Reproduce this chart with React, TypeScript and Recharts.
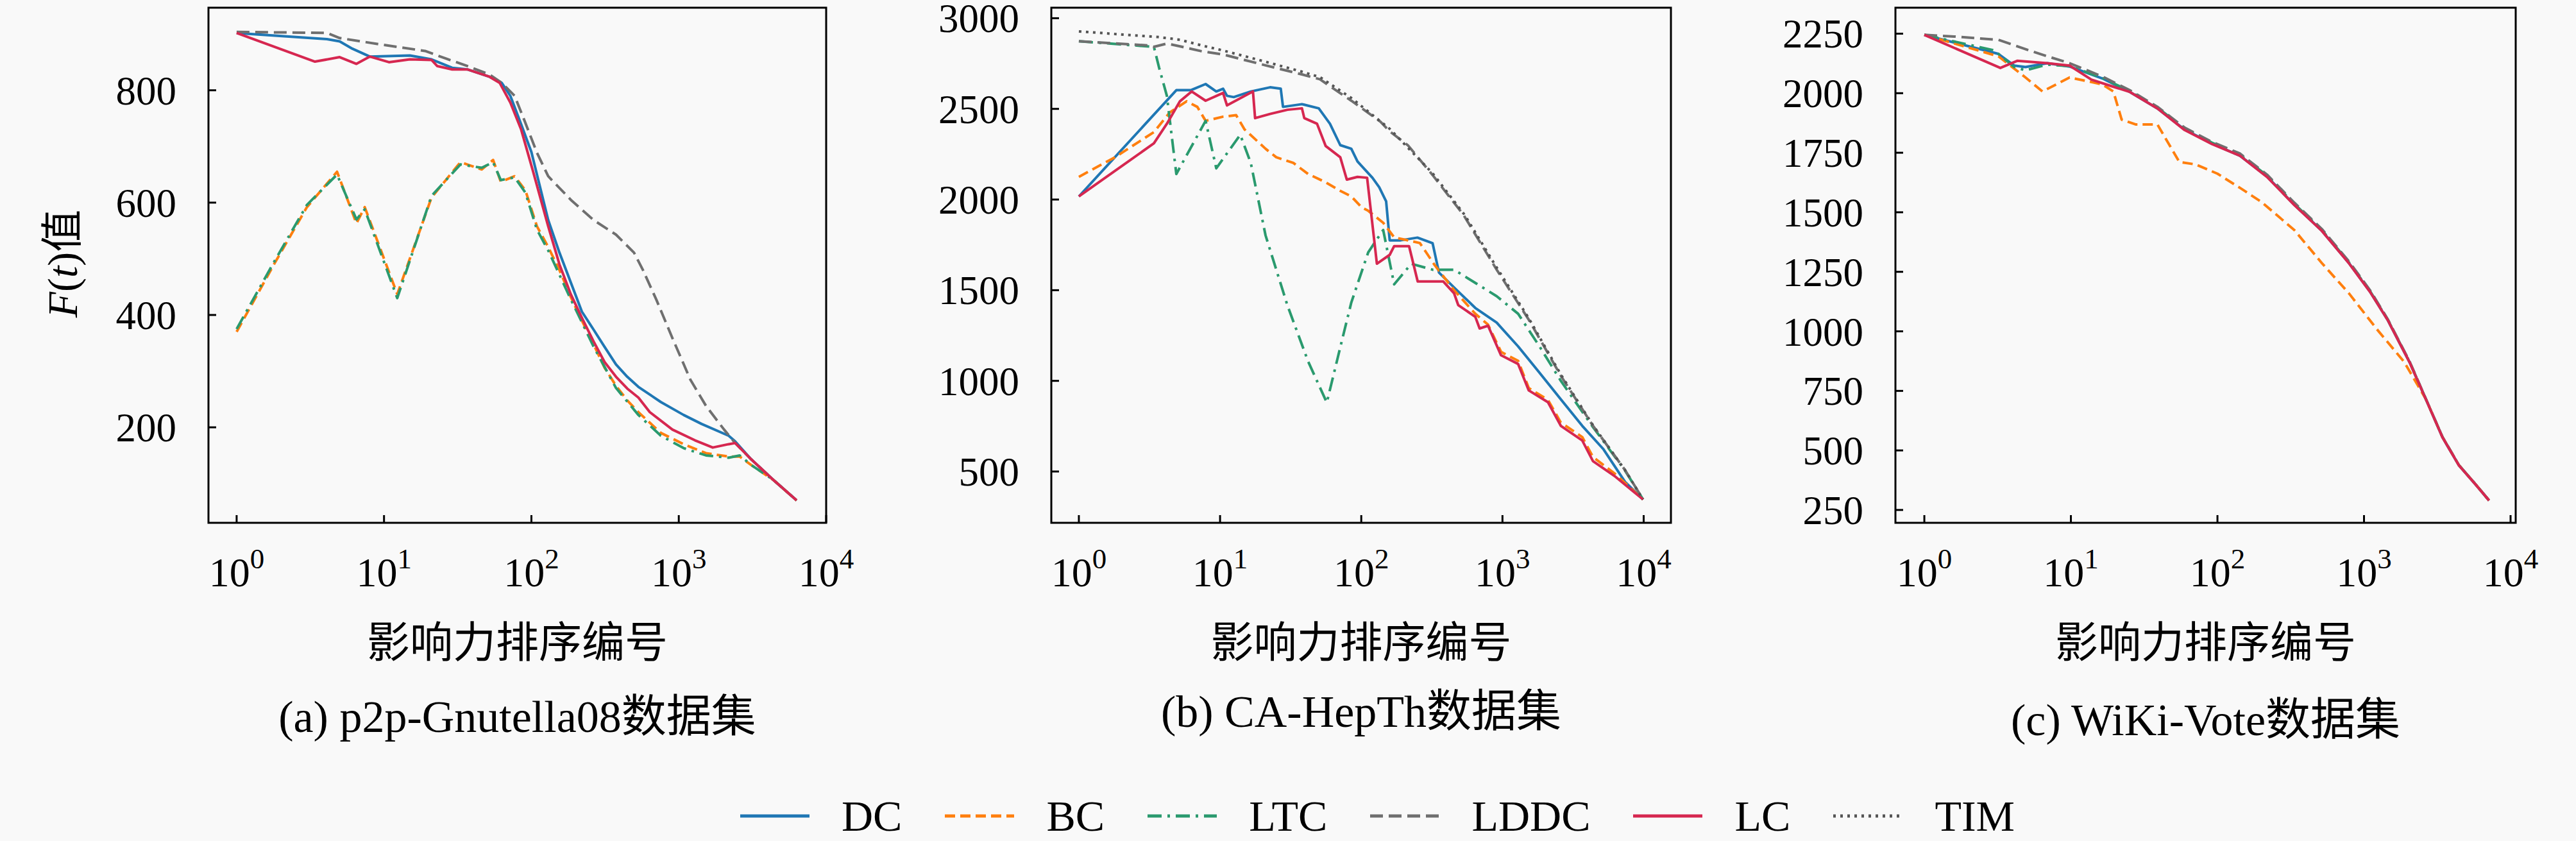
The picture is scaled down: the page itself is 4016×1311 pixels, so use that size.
import React from 'react';
import { LineChart, Line, XAxis, YAxis, ReferenceArea } from 'recharts';

type Pt = [number, number];

const SERIF = "'Liberation Serif', 'Noto Sans CJK SC', serif";

// (a) p2p-Gnutella08 : [rank, F(t)]
const A_DC: Pt[] = [[1, 902], [4.1, 891], [5, 887], [6.1, 874], [8, 860], [15, 862], [21, 855], [29, 840], [37, 837], [52, 824], [63, 813], [72, 790], [85, 740], [100, 690], [130, 569], [155, 511], [185, 458], [220, 406], [264, 374], [314, 343], [375, 312], [447, 290], [532, 272], [756, 245], [1079, 222], [1429, 206], [2180, 185], [2413, 175], [3100, 143], [4400, 106], [6300, 70]];
const A_BC: Pt[] = [[1, 370], [1.8, 491], [3, 592], [4.8, 655], [6.5, 563], [7.4, 592], [12.3, 437], [21, 609], [33, 672], [46, 659], [55, 676], [62, 637], [77, 647], [91, 622], [109, 558], [130, 521], [155, 480], [185, 432], [220, 390], [264, 348], [314, 306], [375, 274], [447, 248], [532, 227], [756, 190], [1079, 170], [1531, 154], [2180, 148], [2590, 148], [3100, 133], [4400, 106], [6300, 70]];
const A_LTC: Pt[] = [[1, 375], [1.8, 495], [3, 596], [4.8, 650], [6.5, 570], [7.4, 588], [12.3, 430], [21, 612], [33, 668], [46, 662], [55, 672], [62, 640], [77, 645], [91, 618], [109, 552], [130, 515], [185, 428], [264, 344], [375, 270], [532, 222], [756, 185], [1079, 163], [1531, 150], [2180, 146], [2590, 150], [3100, 133], [4400, 106], [6300, 70]];
const A_LDDC: Pt[] = [[1, 904], [4.1, 902], [5, 893], [7, 887], [9.8, 881], [19, 870], [26.6, 856], [37, 843], [52, 828], [63, 813], [77, 790], [91, 742], [109, 689], [130, 647], [185, 605], [264, 569], [375, 543], [497, 511], [571, 480], [705, 427], [905, 359], [1198, 285], [1531, 238], [2029, 196], [2413, 172], [3100, 143], [4400, 106], [6300, 70]];
const A_LC: Pt[] = [[1, 902], [3.4, 851], [5, 859], [6.5, 847], [8, 860], [10.8, 850], [15, 855], [21, 854], [23, 843], [29, 837], [37, 837], [52, 824], [61, 813], [72, 778], [85, 731], [102, 658], [130, 558], [155, 490], [185, 437], [220, 395], [264, 353], [314, 316], [375, 290], [447, 269], [532, 253], [636, 227], [905, 196], [1285, 177], [1700, 164], [2180, 170], [2413, 172], [3100, 143], [4400, 106], [6300, 70]];

// (b) CA-HepTh
const B_DC: Pt[] = [[1, 2017], [4.9, 2603], [6.2, 2603], [7.9, 2637], [9.4, 2596], [10.5, 2611], [11.2, 2572], [12.5, 2565], [16.5, 2596], [22.6, 2619], [26.9, 2611], [27.9, 2511], [38, 2526], [50, 2503], [60, 2418], [71, 2300], [85, 2280], [94, 2210], [120, 2120], [134, 2068], [150, 1990], [159, 1775], [190, 1775], [250, 1790], [320, 1759], [355, 1597], [454, 1515], [642, 1402], [910, 1321], [1291, 1190], [1829, 1045], [2590, 898], [3673, 752], [5200, 622], [7380, 443], [9900, 346]];
const B_BC: Pt[] = [[1, 2125], [1.8, 2233], [3.4, 2372], [4.4, 2480], [5.8, 2542], [6.9, 2511], [7.9, 2434], [10.5, 2457], [13, 2465], [14.9, 2387], [21, 2280], [25, 2233], [33, 2202], [42, 2141], [56, 2095], [71, 2048], [85, 2017], [101, 1956], [112, 1938], [143, 1872], [171, 1791], [200, 1780], [260, 1760], [330, 1640], [454, 1500], [642, 1370], [790, 1310], [977, 1160], [1291, 1110], [1536, 960], [2100, 895], [2590, 770], [3673, 690], [4375, 580], [6200, 490], [9900, 346]];
const B_LTC: Pt[] = [[1, 2873], [3.4, 2842], [3.7, 2727], [4.2, 2572], [4.9, 2141], [7.9, 2434], [9.4, 2172], [13.9, 2357], [16.5, 2202], [21, 1802], [30, 1416], [42, 1108], [57, 880], [71, 1185], [85, 1432], [112, 1709], [143, 1832], [171, 1532], [226, 1646], [320, 1613], [454, 1613], [910, 1467], [1291, 1370], [1829, 1190], [2590, 1000], [4375, 745], [7380, 505], [9900, 346]];
const B_LDDC: Pt[] = [[1, 2873], [3.1, 2850], [3.4, 2842], [4.2, 2860], [5.2, 2845], [7.4, 2818], [10.5, 2800], [21, 2740], [38, 2690], [51, 2663], [85, 2545], [137, 2429], [159, 2376], [214, 2299], [320, 2135], [530, 1915], [910, 1613], [1536, 1337], [2590, 1028], [4375, 752], [7380, 508], [9900, 346]];
const B_LC: Pt[] = [[1, 2017], [3.4, 2310], [4.2, 2418], [5.2, 2542], [6.3, 2596], [7.9, 2545], [10.5, 2588], [11.2, 2519], [17.1, 2596], [17.7, 2449], [22.6, 2472], [30, 2495], [38, 2503], [39.5, 2449], [48.6, 2418], [56, 2295], [71, 2233], [79, 2110], [94, 2125], [110, 2120], [129, 1646], [159, 1695], [171, 1743], [218, 1743], [251, 1548], [381, 1548], [454, 1483], [486, 1418], [642, 1353], [689, 1289], [790, 1304], [977, 1141], [1291, 1093], [1536, 947], [2100, 882], [2590, 752], [3673, 671], [4375, 557], [6200, 476], [9900, 346]];
const B_TIM: Pt[] = [[1, 2927], [3.7, 2896], [5.2, 2881], [7.4, 2850], [10.5, 2822], [21, 2760], [38, 2705], [51, 2675], [85, 2560], [159, 2390], [320, 2145], [540, 1915], [910, 1625], [1536, 1345], [2590, 1035], [4375, 755], [7380, 508], [9900, 346]];

// (c) WiKi-Vote
const C_DC: Pt[] = [[1, 2245], [3.2, 2165], [4.1, 2116], [4.9, 2110], [6.9, 2126], [9.8, 2112], [16.4, 2062], [25.3, 2005], [38.9, 1936], [59.8, 1847], [92, 1788], [142, 1738], [218, 1650], [335, 1531], [515, 1423], [793, 1285], [1101, 1166], [1449, 1048], [2046, 870], [2650, 713], [3430, 555], [4443, 437], [5750, 358], [7130, 290]];
const C_BC: Pt[] = [[1, 2245], [3.2, 2155], [4.9, 2066], [6.4, 2007], [9.8, 2066], [16.4, 2037], [19.5, 2007], [22.2, 1889], [27.6, 1869], [38.9, 1869], [55, 1711], [71, 1701], [100, 1662], [142, 1603], [200, 1543], [335, 1425], [515, 1287], [793, 1158], [1220, 1010], [1877, 872], [2650, 714], [3430, 556], [4443, 438], [5750, 359], [7130, 290]];
const C_LTC: Pt[] = [[1, 2245], [3, 2180], [4.1, 2110], [4.9, 2096], [6.9, 2120], [9.8, 2114], [16.4, 2064], [25.3, 2008], [38.9, 1940], [59.8, 1850], [92, 1792], [142, 1742], [218, 1654], [335, 1535], [515, 1426], [793, 1288], [1101, 1168], [1449, 1050], [2046, 872], [2650, 714], [3430, 556], [4443, 438], [5750, 359], [7130, 290]];
const C_LDDC: Pt[] = [[1, 2245], [1.6, 2238], [3.2, 2224], [4.9, 2185], [6.9, 2155], [9.8, 2126], [16.4, 2070], [25.3, 2012], [38.9, 1943], [59.8, 1855], [92, 1795], [142, 1747], [218, 1658], [335, 1540], [515, 1430], [793, 1292], [1101, 1172], [1449, 1052], [2046, 874], [2650, 715], [3430, 557], [4443, 438], [5750, 359], [7130, 290]];
const C_LC: Pt[] = [[1, 2245], [3.3, 2106], [4.3, 2136], [6.9, 2126], [9.8, 2116], [13.8, 2057], [19.5, 2027], [25.3, 2005], [38.9, 1936], [59.8, 1845], [92, 1786], [142, 1738], [218, 1648], [335, 1530], [515, 1422], [793, 1284], [1101, 1165], [1449, 1048], [2046, 870], [2650, 713], [3430, 555], [4443, 437], [5750, 358], [7130, 290]];

const SERIES_NAMES = ['DC', 'BC', 'LTC', 'LDDC', 'LC', 'TIM'];
const X_TICKS = [1, 10, 100, 1000, 10000];
const A_Y_TICKS = [200, 400, 600, 800];
const B_Y_TICKS = [500, 1000, 1500, 2000, 2500, 3000];
const C_Y_TICKS = [250, 500, 750, 1000, 1250, 1500, 1750, 2000, 2250];

const STYLE: Record<string, { color: string; dash?: string }> = {
  DC: { color: '#1f77b4' },
  BC: { color: '#ff7f0e', dash: '16 8' },
  LTC: { color: '#2a9a6e', dash: '22 9 4 9' },
  LDDC: { color: '#6f6f6f', dash: '20 9' },
  LC: { color: '#d62750' },
  TIM: { color: '#555555', dash: '4 7' },
};

const toRows = (pts: Pt[]) => pts.map(([x, y]) => ({ x, y }));

const XTick = (props: any) => {
  const { x, y, payload } = props;
  const exp = Math.round(Math.log10(payload.value));
  return (
    <g>
      <line x1={x} y1={y} x2={x} y2={y - 12} stroke="#000" strokeWidth={3} />
      <text x={x} y={y + 99} textAnchor="middle" fontSize={64} fontFamily={SERIF} fill="#000">
        <tspan>10</tspan>
        <tspan dy={-28} fontSize={45}>{exp}</tspan>
      </text>
    </g>
  );
};

const YTick = (props: any) => {
  const { x, y, payload } = props;
  return (
    <g>
      <line x1={x} y1={y} x2={x + 12} y2={y} stroke="#000" strokeWidth={3} />
      <text x={x - 50} y={y} dy={22} textAnchor="end" fontSize={63} fontFamily={SERIF} fill="#000">
        {payload.value}
      </text>
    </g>
  );
};

interface PanelProps {
  left: number;
  width: number;
  yWidth: number;
  xDomain: [number, number];
  yDomain: [number, number];
  yTicks: number[];
  series: Record<string, Pt[] | undefined>;
  caption: string;
  captionTop: number;
}

// the svg is lifted by LIFT so the top tick label is not clipped
const LIFT = 40;
const CHART_H = 1000 + LIFT;
const MARGIN = { top: 12 + LIFT, right: 90, bottom: 0, left: 0 };

const Panel = ({ left, width, yWidth, xDomain, yDomain, yTicks, series, caption, captionTop }: PanelProps) => {
  const centre = left + yWidth + (width - yWidth - MARGIN.right) / 2;
  return (
    <>
      <div style={{ position: 'absolute', left, top: -LIFT }}>
        <LineChart width={width} height={CHART_H} margin={MARGIN}>
          <XAxis
            dataKey="x"
            type="number"
            scale="log"
            domain={xDomain}
            allowDataOverflow
            ticks={X_TICKS}
            interval={0}
            height={185}
            tickSize={0}
            tickMargin={0}
            tickLine={false}
            axisLine={false}
            tick={<XTick />}
          />
          <YAxis
            dataKey="y"
            type="number"
            domain={yDomain}
            allowDataOverflow
            ticks={yTicks}
            interval={0}
            width={yWidth}
            tickSize={0}
            tickMargin={0}
            tickLine={false}
            axisLine={false}
            tick={<YTick />}
          />
          {SERIES_NAMES.map((name) => {
            const pts = series[name];
            if (!pts) return null;
            const st = STYLE[name];
            return (
              <Line
                key={name}
                data={toRows(pts)}
                dataKey="y"
                type="linear"
                stroke={st.color}
                strokeWidth={4}
                strokeDasharray={st.dash}
                strokeLinejoin="round"
                dot={false}
                activeDot={false}
                isAnimationActive={false}
              />
            );
          })}
          <ReferenceArea
            x1={xDomain[0]}
            x2={xDomain[1]}
            y1={yDomain[0]}
            y2={yDomain[1]}
            fill="none"
            stroke="#000"
            strokeWidth={3}
            ifOverflow="visible"
          />
        </LineChart>
      </div>
      <div
        style={{
          position: 'absolute',
          left: centre - 400,
          width: 800,
          top: 967,
          textAlign: 'center',
          fontFamily: SERIF,
          fontSize: 67,
          lineHeight: '70px',
        }}
      >
        影响力排序编号
      </div>
      <div
        style={{
          position: 'absolute',
          left: centre - 600,
          width: 1200,
          top: captionTop,
          textAlign: 'center',
          fontFamily: SERIF,
          fontSize: 70,
          lineHeight: '72px',
        }}
      >
        {caption}
      </div>
    </>
  );
};

const LegendSample = ({ name }: { name: string }) => {
  const st = STYLE[name];
  return (
    <svg width={108} height={20} style={{ display: 'block' }}>
      <line x1={0} y1={10} x2={108} y2={10} stroke={st.color} strokeWidth={5} strokeDasharray={st.dash} />
    </svg>
  );
};

export default function App() {
  return (
    <div
      style={{
        position: 'absolute',
        left: 0,
        top: 0,
        width: 4016,
        height: 1311,
        background: '#f9f9f9',
        overflow: 'hidden',
      }}
    >
      <Panel
        left={0}
        width={1378}
        yWidth={325}
        xDomain={[0.644, 10000]}
        yDomain={[30, 947]}
        yTicks={A_Y_TICKS}
        series={{ DC: A_DC, BC: A_BC, LTC: A_LTC, LDDC: A_LDDC, LC: A_LC }}
        caption="(a) p2p-Gnutella08数据集"
        captionTop={1082}
      />
      <Panel
        left={1339}
        width={1356}
        yWidth={300}
        xDomain={[0.638, 15600]}
        yDomain={[217, 3058]}
        yTicks={B_Y_TICKS}
        series={{ DC: B_DC, BC: B_BC, LTC: B_LTC, LDDC: B_LDDC, LC: B_LC, TIM: B_TIM }}
        caption="(b) CA-HepTh数据集"
        captionTop={1074}
      />
      <Panel
        left={2655}
        width={1357}
        yWidth={300}
        xDomain={[0.635, 10840]}
        yDomain={[196, 2359]}
        yTicks={C_Y_TICKS}
        series={{ DC: C_DC, BC: C_BC, LTC: C_LTC, LDDC: C_LDDC, LC: C_LC }}
        caption="(c) WiKi-Vote数据集"
        captionTop={1087}
      />
      <div
        style={{
          position: 'absolute',
          left: 98 - 150,
          top: 411 - 35,
          width: 300,
          height: 70,
          lineHeight: '70px',
          textAlign: 'center',
          transform: 'rotate(-90deg)',
          fontFamily: SERIF,
          fontSize: 66,
        }}
      >
        <i>F</i>(<i>t</i>)值
      </div>
      <div
        style={{
          position: 'absolute',
          left: 1154,
          top: 1232,
          height: 80,
          display: 'flex',
          alignItems: 'center',
          fontFamily: SERIF,
          fontSize: 68,
        }}
      >
        {SERIES_NAMES.map((name, i) => (
          <div key={name} style={{ display: 'flex', alignItems: 'center', marginLeft: i === 0 ? 0 : 67 }}>
            <LegendSample name={name} />
            <span style={{ marginLeft: 50 }}>{name}</span>
          </div>
        ))}
      </div>
    </div>
  );
}
